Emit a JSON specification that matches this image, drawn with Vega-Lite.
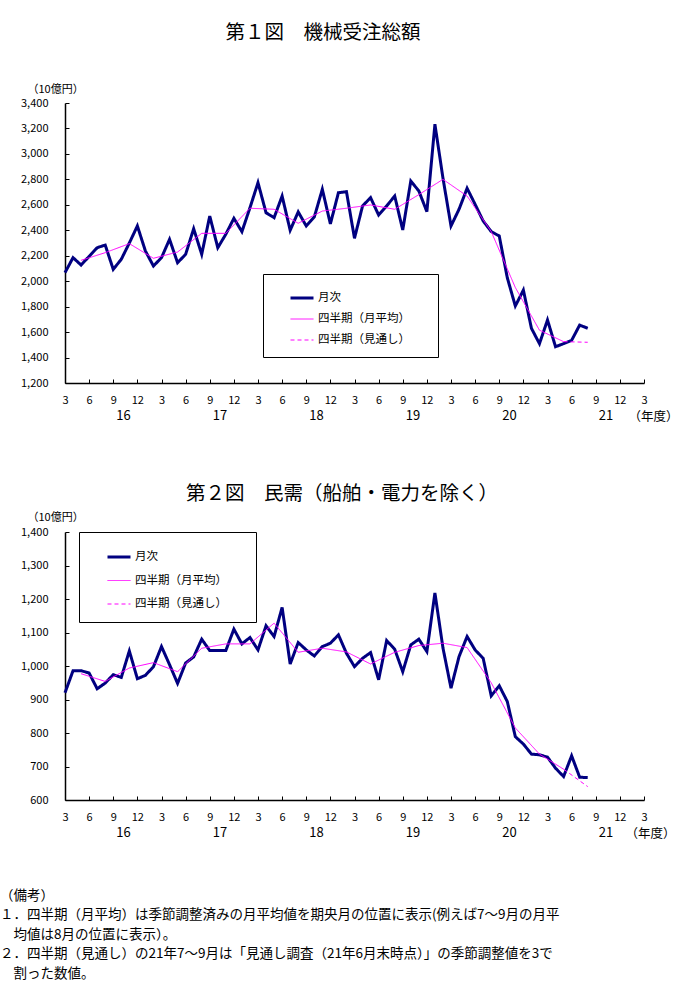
{
"$schema": "https://vega.github.io/schema/vega-lite/v6.json",
"background": "white",
"padding": {"left": 0, "top": 22, "right": 5, "bottom": 4},
"title": {"text": "第１図　機械受注総額", "fontSize": 19.5, "fontWeight": "normal", "anchor": "middle", "dx": -16, "offset": 40, "color": "black"},
"spacing": 8,
"config": {
  "font": "Noto Sans CJK JP",
  "view": {"stroke": null},
  "axis": {"grid": false, "domainColor": "black", "tickColor": "black", "labelColor": "black", "titleColor": "black", "titleFontWeight": "normal", "labelFlush": false, "labelOverlap": false, "domainWidth": 1.5, "tickWidth": 1},
  "legend": {"orient": "none", "strokeColor": "black", "fillColor": "white", "padding": 11, "symbolType": "stroke", "symbolSize": 529, "labelFontSize": 11.5, "labelColor": "black", "rowPadding": 3, "symbolOffset": 15, "labelOffset": 3, "titleOrient": "right", "titleFontSize": 12, "titlePadding": 4},
  "title": {"color": "black", "fontWeight": "normal"}
},
"resolve": {"scale": {"color": "independent", "strokeDash": "independent", "strokeWidth": "independent"}},
"datasets": {
"fig1": [
{"t":0,"v":2067,"series":"月次"},{"t":1,"v":2185,"series":"月次"},{"t":2,"v":2127,"series":"月次"},{"t":3,"v":2195,"series":"月次"},{"t":4,"v":2263,"series":"月次"},{"t":5,"v":2284,"series":"月次"},{"t":6,"v":2093,"series":"月次"},{"t":7,"v":2172,"series":"月次"},{"t":8,"v":2300,"series":"月次"},{"t":9,"v":2434,"series":"月次"},
{"t":10,"v":2237,"series":"月次"},{"t":11,"v":2119,"series":"月次"},{"t":12,"v":2185,"series":"月次"},{"t":13,"v":2329,"series":"月次"},{"t":14,"v":2145,"series":"月次"},{"t":15,"v":2211,"series":"月次"},{"t":16,"v":2412,"series":"月次"},{"t":17,"v":2211,"series":"月次"},{"t":18,"v":2512,"series":"月次"},{"t":19,"v":2263,"series":"月次"},
{"t":20,"v":2369,"series":"月次"},{"t":21,"v":2494,"series":"月次"},{"t":22,"v":2389,"series":"月次"},{"t":23,"v":2577,"series":"月次"},{"t":24,"v":2774,"series":"月次"},{"t":25,"v":2538,"series":"月次"},{"t":26,"v":2499,"series":"月次"},{"t":27,"v":2669,"series":"月次"},{"t":28,"v":2400,"series":"月次"},{"t":29,"v":2544,"series":"月次"},
{"t":30,"v":2434,"series":"月次"},{"t":31,"v":2504,"series":"月次"},{"t":32,"v":2722,"series":"月次"},{"t":33,"v":2450,"series":"月次"},{"t":34,"v":2695,"series":"月次"},{"t":35,"v":2703,"series":"月次"},{"t":36,"v":2337,"series":"月次"},{"t":37,"v":2591,"series":"月次"},{"t":38,"v":2656,"series":"月次"},{"t":39,"v":2520,"series":"月次"},
{"t":40,"v":2591,"series":"月次"},{"t":41,"v":2669,"series":"月次"},{"t":42,"v":2402,"series":"月次"},{"t":43,"v":2787,"series":"月次"},{"t":44,"v":2709,"series":"月次"},{"t":45,"v":2546,"series":"月次"},{"t":46,"v":3233,"series":"月次"},{"t":47,"v":2810,"series":"月次"},{"t":48,"v":2434,"series":"月次"},{"t":49,"v":2565,"series":"月次"},
{"t":50,"v":2730,"series":"月次"},{"t":51,"v":2604,"series":"月次"},{"t":52,"v":2473,"series":"月次"},{"t":53,"v":2390,"series":"月次"},{"t":54,"v":2355,"series":"月次"},{"t":55,"v":2027,"series":"月次"},{"t":56,"v":1805,"series":"月次"},{"t":57,"v":1930,"series":"月次"},{"t":58,"v":1630,"series":"月次"},{"t":59,"v":1509,"series":"月次"},
{"t":60,"v":1695,"series":"月次"},{"t":61,"v":1485,"series":"月次"},{"t":62,"v":1509,"series":"月次"},{"t":63,"v":1535,"series":"月次"},{"t":64,"v":1655,"series":"月次"},{"t":65,"v":1630,"series":"月次"},
{"t":2,"v":2164,"series":"四半期（月平均）"},{"t":5,"v":2224,"series":"四半期（月平均）"},{"t":8,"v":2295,"series":"四半期（月平均）"},{"t":11,"v":2180,"series":"四半期（月平均）"},{"t":14,"v":2229,"series":"四半期（月平均）"},{"t":17,"v":2376,"series":"四半期（月平均）"},{"t":20,"v":2376,"series":"四半期（月平均）"},
{"t":23,"v":2573,"series":"四半期（月平均）"},{"t":26,"v":2565,"series":"四半期（月平均）"},{"t":29,"v":2455,"series":"四半期（月平均）"},{"t":32,"v":2551,"series":"四半期（月平均）"},{"t":35,"v":2573,"series":"四半期（月平均）"},{"t":38,"v":2599,"series":"四半期（月平均）"},{"t":41,"v":2565,"series":"四半期（月平均）"},
{"t":44,"v":2680,"series":"四半期（月平均）"},{"t":47,"v":2800,"series":"四半期（月平均）"},{"t":50,"v":2669,"series":"四半期（月平均）"},{"t":53,"v":2390,"series":"四半期（月平均）"},{"t":56,"v":1950,"series":"四半期（月平均）"},{"t":59,"v":1615,"series":"四半期（月平均）"},{"t":62,"v":1525,"series":"四半期（月平均）"},
{"t":62,"v":1525,"series":"四半期（見通し）"},{"t":65,"v":1520,"series":"四半期（見通し）"}
],
"fig2": [
{"t":0,"v":920,"series":"月次"},{"t":1,"v":986,"series":"月次"},{"t":2,"v":986,"series":"月次"},{"t":3,"v":979,"series":"月次"},{"t":4,"v":932,"series":"月次"},{"t":5,"v":949,"series":"月次"},{"t":6,"v":974,"series":"月次"},{"t":7,"v":966,"series":"月次"},{"t":8,"v":1045,"series":"月次"},{"t":9,"v":962,"series":"月次"},
{"t":10,"v":972,"series":"月次"},{"t":11,"v":998,"series":"月次"},{"t":12,"v":1058,"series":"月次"},{"t":13,"v":1004,"series":"月次"},{"t":14,"v":948,"series":"月次"},{"t":15,"v":1009,"series":"月次"},{"t":16,"v":1027,"series":"月次"},{"t":17,"v":1080,"series":"月次"},{"t":18,"v":1046,"series":"月次"},{"t":19,"v":1046,"series":"月次"},
{"t":20,"v":1046,"series":"月次"},{"t":21,"v":1110,"series":"月次"},{"t":22,"v":1066,"series":"月次"},{"t":23,"v":1085,"series":"月次"},{"t":24,"v":1048,"series":"月次"},{"t":25,"v":1120,"series":"月次"},{"t":26,"v":1088,"series":"月次"},{"t":27,"v":1175,"series":"月次"},{"t":28,"v":1006,"series":"月次"},{"t":29,"v":1070,"series":"月次"},
{"t":30,"v":1048,"series":"月次"},{"t":31,"v":1030,"series":"月次"},{"t":32,"v":1058,"series":"月次"},{"t":33,"v":1068,"series":"月次"},{"t":34,"v":1093,"series":"月次"},{"t":35,"v":1038,"series":"月次"},{"t":36,"v":998,"series":"月次"},{"t":37,"v":1023,"series":"月次"},{"t":38,"v":1040,"series":"月次"},{"t":39,"v":959,"series":"月次"},
{"t":40,"v":1076,"series":"月次"},{"t":41,"v":1050,"series":"月次"},{"t":42,"v":983,"series":"月次"},{"t":43,"v":1063,"series":"月次"},{"t":44,"v":1080,"series":"月次"},{"t":45,"v":1043,"series":"月次"},{"t":46,"v":1218,"series":"月次"},{"t":47,"v":1054,"series":"月次"},{"t":48,"v":934,"series":"月次"},{"t":49,"v":1028,"series":"月次"},
{"t":50,"v":1088,"series":"月次"},{"t":51,"v":1048,"series":"月次"},{"t":52,"v":1023,"series":"月次"},{"t":53,"v":911,"series":"月次"},{"t":54,"v":941,"series":"月次"},{"t":55,"v":894,"series":"月次"},{"t":56,"v":789,"series":"月次"},{"t":57,"v":767,"series":"月次"},{"t":58,"v":737,"series":"月次"},{"t":59,"v":735,"series":"月次"},
{"t":60,"v":728,"series":"月次"},{"t":61,"v":695,"series":"月次"},{"t":62,"v":670,"series":"月次"},{"t":63,"v":732,"series":"月次"},{"t":64,"v":668,"series":"月次"},{"t":65,"v":667,"series":"月次"},
{"t":2,"v":977,"series":"四半期（月平均）"},{"t":5,"v":954,"series":"四半期（月平均）"},{"t":8,"v":994,"series":"四半期（月平均）"},{"t":11,"v":1010,"series":"四半期（月平均）"},{"t":14,"v":983,"series":"四半期（月平均）"},{"t":17,"v":1053,"series":"四半期（月平均）"},{"t":20,"v":1066,"series":"四半期（月平均）"},
{"t":23,"v":1066,"series":"四半期（月平均）"},{"t":26,"v":1128,"series":"四半期（月平均）"},{"t":29,"v":1041,"series":"四半期（月平均）"},{"t":32,"v":1053,"series":"四半期（月平均）"},{"t":35,"v":1042,"series":"四半期（月平均）"},{"t":38,"v":1006,"series":"四半期（月平均）"},{"t":41,"v":1041,"series":"四半期（月平均）"},
{"t":44,"v":1061,"series":"四半期（月平均）"},{"t":47,"v":1068,"series":"四半期（月平均）"},{"t":50,"v":1055,"series":"四半期（月平均）"},{"t":53,"v":950,"series":"四半期（月平均）"},{"t":56,"v":815,"series":"四半期（月平均）"},{"t":59,"v":737,"series":"四半期（月平均）"},{"t":62,"v":692,"series":"四半期（月平均）"},
{"t":62,"v":692,"series":"四半期（見通し）"},{"t":65,"v":640,"series":"四半期（見通し）"}
]
},
"vconcat": [
{
  "width": 579, "height": 280,
  "title": {"text": "第２図　民需（船舶・電力を除く）", "orient": "bottom", "fontSize": 19.5, "frame": "group", "anchor": "middle", "dx": -12.5, "offset": 62},
  "data": {"name": "fig1"},
  "encoding": {
    "y": {"field": "v", "type": "quantitative", "scale": {"domain": [1200, 3400], "nice": false, "zero": false},
      "axis": {"values": [1200,1400,1600,1800,2000,2200,2400,2600,2800,3000,3200,3400], "format": ",.0f", "tickSize": -4, "labelPadding": 21, "labelFontSize": 11, "title": "（10億円）", "titleAngle": 0, "titleX": -38, "titleY": -14, "titleAlign": "left", "titleBaseline": "middle", "titleFontSize": 11}},
    "color": {"field": "series", "type": "nominal", "scale": {"domain": ["月次", "四半期（月平均）", "四半期（見通し）"], "range": ["#000080", "#FF00FF", "#FF00FF"]}, "legend": {"title": "\u200B\u3000\u200B", "legendX": 198, "legendY": 171}},
    "strokeDash": {"field": "series", "type": "nominal", "scale": {"domain": ["月次", "四半期（月平均）", "四半期（見通し）"], "range": [[1, 0], [1, 0], [4, 3]]}, "legend": {"title": "\u200B\u3000\u200B", "legendX": 198, "legendY": 171}},
    "strokeWidth": {"field": "series", "type": "nominal", "scale": {"type": "ordinal", "domain": ["月次", "四半期（月平均）", "四半期（見通し）"], "range": [3, 1, 1]}, "legend": {"title": "\u200B\u3000\u200B", "legendX": 198, "legendY": 171}}
  },
  "layer": [
    {"transform": [{"filter": "datum.series === '月次'"}], "mark": {"type": "line"},
     "encoding": {"x": {"field": "t", "type": "quantitative", "scale": {"domain": [0, 72], "nice": false, "zero": false},
       "axis": {"orient": "bottom", "values": [0,3,6,9,12,15,18,21,24,27,30,33,36,39,42,45,48,51,54,57,60,63,66,69,72], "labelExpr": "'' + ((datum.value + 2) % 12 + 1)", "tickSize": -4, "labelPadding": 15, "labelFontSize": 11, "title": "（年度）", "titleX": 588, "titleY": 33, "titleAlign": "center", "titleBaseline": "middle", "titleFontSize": 12.5}}}},
    {"transform": [{"filter": "datum.series !== '月次'"}], "mark": {"type": "line"},
     "encoding": {"x": {"field": "t", "type": "quantitative", "scale": {"domain": [0, 72], "nice": false, "zero": false},
       "axis": {"orient": "bottom", "values": [7.2, 19.2, 31.2, 43.2, 55.2, 67.2], "labelExpr": "'' + (16 + round((datum.value - 7.2) / 12))", "ticks": false, "domain": false, "labelPadding": 26, "labelFontSize": 13, "title": null}}}}
  ],
  "resolve": {"axis": {"x": "independent"}}
},
{
  "width": 579, "height": 268,
  "title": {"text": ["（備考）", "１．四半期（月平均）は季節調整済みの月平均値を期央月の位置に表示(例えば7～9月の月平", "\u200B\u3000均値は8月の位置に表示）。", "２．四半期（見通し）の21年7～9月は「見通し調査（21年6月末時点）」の季節調整値を3で", "\u200B\u3000割った数値。"], "orient": "bottom", "anchor": "start", "frame": "group", "dx": -65, "offset": 49, "fontSize": 13.5, "lineHeight": 19.6, "align": "left"},
  "data": {"name": "fig2"},
  "encoding": {
    "y": {"field": "v", "type": "quantitative", "scale": {"domain": [600, 1400], "nice": false, "zero": false},
      "axis": {"values": [600,700,800,900,1000,1100,1200,1300,1400], "format": ",.0f", "tickSize": -4, "labelPadding": 21, "labelFontSize": 11, "title": "（10億円）", "titleAngle": 0, "titleX": -38, "titleY": -15, "titleAlign": "left", "titleBaseline": "middle", "titleFontSize": 11}},
    "color": {"field": "series", "type": "nominal", "scale": {"domain": ["月次", "四半期（月平均）", "四半期（見通し）"], "range": ["#000080", "#FF00FF", "#FF00FF"]}, "legend": {"title": "\u200B\u3000\u200B", "legendX": 14, "legendY": 0, "rowPadding": 5.5, "padding": 12}},
    "strokeDash": {"field": "series", "type": "nominal", "scale": {"domain": ["月次", "四半期（月平均）", "四半期（見通し）"], "range": [[1, 0], [1, 0], [4, 3]]}, "legend": {"title": "\u200B\u3000\u200B", "legendX": 14, "legendY": 0, "rowPadding": 5.5, "padding": 12}},
    "strokeWidth": {"field": "series", "type": "nominal", "scale": {"type": "ordinal", "domain": ["月次", "四半期（月平均）", "四半期（見通し）"], "range": [3, 1, 1]}, "legend": {"title": "\u200B\u3000\u200B", "legendX": 14, "legendY": 0, "rowPadding": 5.5, "padding": 12}}
  },
  "layer": [
    {"transform": [{"filter": "datum.series === '月次'"}], "mark": {"type": "line"},
     "encoding": {"x": {"field": "t", "type": "quantitative", "scale": {"domain": [0, 72], "nice": false, "zero": false},
       "axis": {"orient": "bottom", "values": [0,3,6,9,12,15,18,21,24,27,30,33,36,39,42,45,48,51,54,57,60,63,66,69,72], "labelExpr": "'' + ((datum.value + 2) % 12 + 1)", "tickSize": -4, "labelPadding": 15, "labelFontSize": 11, "title": "（年度）", "titleX": 585, "titleY": 33, "titleAlign": "center", "titleBaseline": "middle", "titleFontSize": 12.5}}}},
    {"transform": [{"filter": "datum.series !== '月次'"}], "mark": {"type": "line"},
     "encoding": {"x": {"field": "t", "type": "quantitative", "scale": {"domain": [0, 72], "nice": false, "zero": false},
       "axis": {"orient": "bottom", "values": [7.2, 19.2, 31.2, 43.2, 55.2, 67.2], "labelExpr": "'' + (16 + round((datum.value - 7.2) / 12))", "ticks": false, "domain": false, "labelPadding": 26, "labelFontSize": 13, "title": null}}}}
  ],
  "resolve": {"axis": {"x": "independent"}}
}
]
}
